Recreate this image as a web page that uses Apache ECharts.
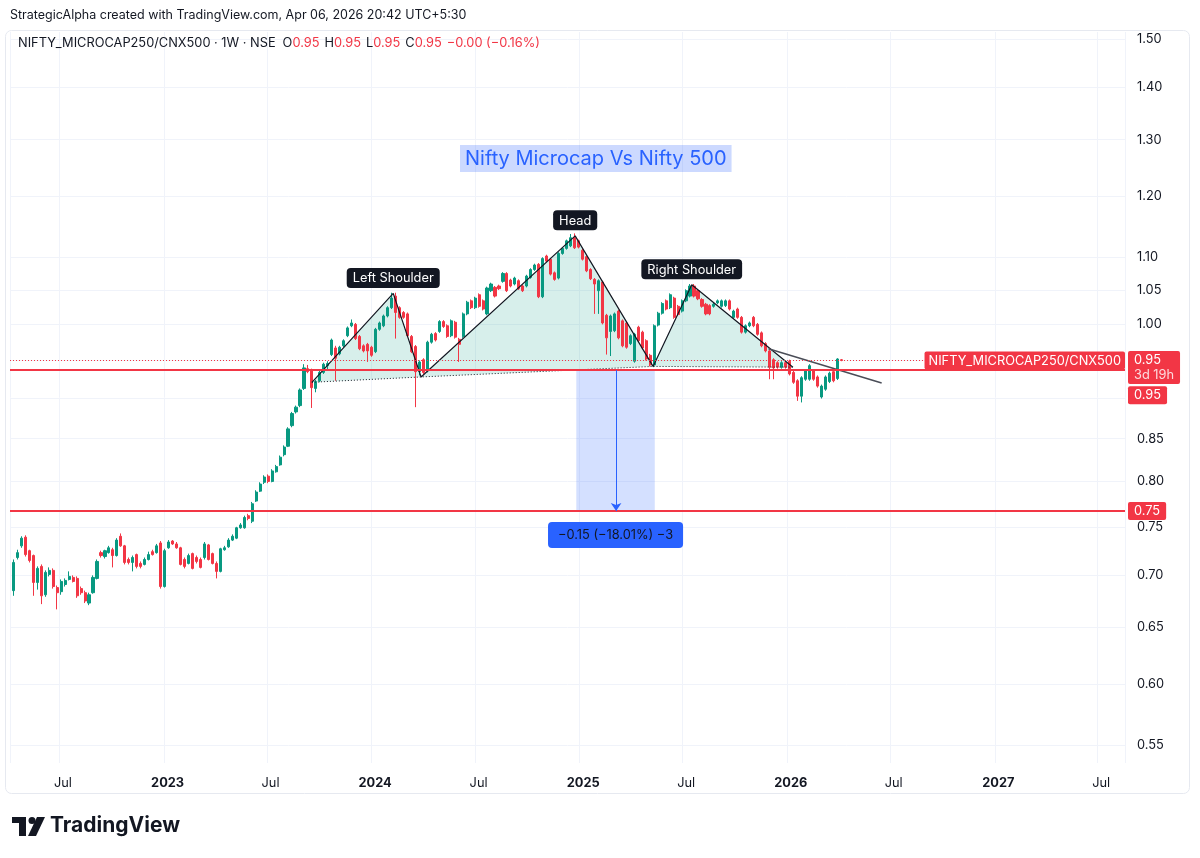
<!DOCTYPE html>
<html lang="en">
<head>
<meta charset="UTF-8">
<title>Nifty Microcap Vs Nifty 500</title>
<script src="https://cdn.jsdelivr.net/npm/echarts@6/dist/echarts.min.js"></script>
<style>
body{margin:0;padding:0;background:#fff;}
#main{width:1200px;height:858px;}
</style>
</head>
<body>
<div id="main"></div>
<script>
// weekly bars of NIFTY_MICROCAP250/CNX500, first bar is the week of 11 Apr 2022
var firstWeek = '2022-04-11';
var opens = [
  0.685,0.718,0.730,0.739,0.725,0.720,0.693,0.709,0.681,0.701,
  0.705,0.688,0.684,0.691,0.696,0.698,0.697,0.687,0.683,0.673,
  0.683,0.697,0.723,0.719,0.723,0.726,0.720,0.740,0.730,0.716,
  0.713,0.721,0.712,0.711,0.716,0.724,0.723,0.733,0.689,0.728,
  0.735,0.732,0.728,0.716,0.712,0.722,0.718,0.716,0.718,0.731,
  0.722,0.712,0.704,0.726,0.729,0.736,0.738,0.749,0.749,0.762,
  0.756,0.778,0.789,0.799,0.806,0.800,0.811,0.819,0.831,0.841,
  0.866,0.883,0.891,0.913,0.939,0.937,0.913,0.923,0.934,0.943,
  0.958,0.967,0.959,0.970,0.984,0.998,1.000,0.983,0.970,0.972,
  0.968,0.962,0.993,0.998,1.012,1.024,1.041,1.024,1.017,1.015,
  0.983,0.969,0.935,0.951,0.936,0.975,0.987,0.990,1.004,0.998,
  0.984,1.003,0.979,0.983,1.015,1.034,1.024,1.043,1.034,1.015,
  1.049,1.054,1.056,1.063,1.075,1.065,1.059,1.064,1.056,1.056,
  1.069,1.081,1.089,1.040,1.102,1.097,1.076,1.068,1.106,1.114,
  1.118,1.131,1.126,1.111,1.101,1.081,1.066,1.049,1.062,1.013,
  0.990,0.991,1.019,1.005,1.002,0.973,0.949,0.996,0.989,0.977,
  0.957,0.944,0.999,1.016,1.034,1.024,1.038,1.026,1.019,1.034,
  1.041,1.056,1.049,1.036,1.029,1.027,1.026,1.031,1.026,1.027,
  1.034,1.010,1.022,1.010,0.989,0.998,1.010,1.000,0.988,0.973,
  0.963,0.951,0.947,0.941,0.947,0.949,0.934,0.923,0.903,0.925,
  0.925,0.936,0.928,0.902,0.912,0.922,0.935,0.926,0.951
];
var closes = [
  0.713,0.723,0.738,0.721,0.715,0.693,0.707,0.680,0.703,0.705,
  0.689,0.683,0.694,0.695,0.699,0.694,0.680,0.683,0.675,0.681,
  0.698,0.714,0.720,0.725,0.728,0.720,0.736,0.730,0.713,0.713,
  0.718,0.709,0.709,0.716,0.721,0.721,0.730,0.689,0.725,0.734,
  0.732,0.728,0.711,0.709,0.720,0.707,0.714,0.708,0.732,0.716,
  0.712,0.704,0.727,0.728,0.736,0.740,0.749,0.752,0.760,0.759,
  0.775,0.788,0.797,0.805,0.800,0.812,0.817,0.828,0.840,0.862,
  0.881,0.889,0.911,0.940,0.935,0.914,0.922,0.934,0.945,0.946,
  0.978,0.953,0.968,0.977,0.995,1.002,0.980,0.966,0.963,0.963,
  0.957,0.993,1.002,1.012,1.024,1.038,1.017,1.010,1.010,0.984,
  0.962,0.935,0.948,0.934,0.975,0.986,0.978,1.004,0.997,0.983,
  1.005,0.982,0.972,1.015,1.032,1.024,1.038,1.026,1.022,1.053,
  1.059,1.041,1.052,1.075,1.049,1.056,1.068,1.052,1.049,1.071,
  1.081,1.088,1.040,1.098,1.094,1.074,1.066,1.106,1.114,1.126,
  1.131,1.115,1.116,1.097,1.079,1.067,1.059,1.064,1.002,0.981,
  1.012,1.015,0.981,0.970,0.968,0.984,0.986,0.977,0.967,0.952,
  0.944,0.998,1.016,1.030,1.022,1.043,1.010,1.014,1.034,1.049,
  1.056,1.041,1.037,1.026,1.015,1.015,1.029,1.034,1.034,1.034,
  1.022,1.019,1.010,0.989,0.998,1.002,0.998,0.986,0.970,0.963,
  0.941,0.940,0.941,0.947,0.941,0.932,0.921,0.903,0.927,0.936,
  0.943,0.925,0.916,0.916,0.928,0.933,0.923,0.952,0.950
];
var lows = [
  0.680,0.716,0.728,0.719,0.713,0.680,0.686,0.672,0.679,0.699,
  0.687,0.667,0.681,0.689,0.695,0.693,0.678,0.681,0.673,0.671,
  0.682,0.696,0.718,0.717,0.722,0.708,0.719,0.729,0.711,0.711,
  0.704,0.707,0.707,0.710,0.715,0.720,0.722,0.687,0.688,0.727,
  0.731,0.727,0.710,0.707,0.711,0.706,0.712,0.707,0.716,0.715,
  0.711,0.697,0.703,0.725,0.728,0.735,0.737,0.748,0.748,0.757,
  0.754,0.777,0.788,0.797,0.798,0.799,0.810,0.818,0.829,0.840,
  0.864,0.881,0.889,0.911,0.933,0.888,0.908,0.921,0.932,0.938,
  0.956,0.923,0.957,0.968,0.982,0.996,0.978,0.964,0.961,0.948,
  0.955,0.960,0.991,0.996,1.010,1.022,0.980,1.008,1.008,0.982,
  0.960,0.889,0.930,0.932,0.934,0.973,0.976,0.988,0.995,0.981,
  0.982,0.980,0.948,0.981,1.013,1.022,1.022,1.024,1.020,1.013,
  1.047,1.039,1.050,1.061,1.047,1.054,1.057,1.050,1.047,1.054,
  1.067,1.079,1.038,1.038,1.092,1.072,1.064,1.066,1.104,1.112,
  1.116,1.113,1.114,1.095,1.077,1.065,1.015,1.015,1.000,0.958,
  0.956,0.989,0.979,0.968,0.966,0.971,0.947,0.975,0.965,0.950,
  0.942,0.941,0.997,1.014,1.020,1.022,1.008,1.012,1.017,1.032,
  1.039,1.039,1.035,1.024,1.013,1.013,1.024,1.029,1.024,1.025,
  1.020,1.008,1.008,0.987,0.987,0.996,0.996,0.984,0.968,0.961,
  0.925,0.925,0.939,0.939,0.939,0.930,0.919,0.897,0.895,0.923,
  0.923,0.923,0.914,0.900,0.910,0.920,0.921,0.924,0.949
];
var highs = [
  0.716,0.726,0.740,0.741,0.726,0.721,0.709,0.711,0.705,0.708,
  0.707,0.690,0.696,0.697,0.704,0.700,0.699,0.689,0.685,0.683,
  0.700,0.716,0.725,0.726,0.730,0.728,0.738,0.743,0.731,0.718,
  0.720,0.722,0.714,0.718,0.724,0.726,0.732,0.735,0.727,0.736,
  0.736,0.734,0.729,0.718,0.722,0.723,0.720,0.718,0.734,0.732,
  0.723,0.714,0.728,0.730,0.738,0.742,0.750,0.754,0.762,0.764,
  0.777,0.790,0.799,0.807,0.808,0.814,0.819,0.830,0.842,0.864,
  0.883,0.891,0.913,0.945,0.944,0.939,0.924,0.936,0.947,0.949,
  0.980,0.970,0.970,0.979,0.997,1.007,1.002,0.985,0.972,0.974,
  0.970,0.995,1.004,1.014,1.026,1.046,1.046,1.026,1.019,1.017,
  0.985,0.971,0.950,0.953,0.977,0.988,0.989,1.006,1.006,1.000,
  1.007,1.005,0.981,1.017,1.034,1.036,1.040,1.045,1.036,1.055,
  1.061,1.056,1.058,1.077,1.077,1.067,1.070,1.066,1.058,1.073,
  1.083,1.090,1.091,1.100,1.104,1.099,1.078,1.108,1.116,1.128,
  1.137,1.138,1.128,1.113,1.103,1.083,1.068,1.066,1.064,1.015,
  1.014,1.017,1.021,1.007,1.004,0.986,0.988,0.998,0.991,0.979,
  0.959,1.000,1.018,1.032,1.036,1.045,1.040,1.028,1.036,1.051,
  1.059,1.059,1.051,1.038,1.031,1.029,1.031,1.036,1.036,1.036,
  1.036,1.021,1.024,1.012,1.000,1.004,1.012,1.002,0.990,0.975,
  0.965,0.953,0.949,0.949,0.949,0.951,0.936,0.925,0.929,0.938,
  0.945,0.938,0.930,0.918,0.930,0.935,0.937,0.953,0.952
];

// price scale (log)
var priceTicks = [0.55, 0.60, 0.65, 0.70, 0.75, 0.80, 0.85, 0.90, 0.95, 1.00, 1.05, 1.10, 1.20, 1.30, 1.40, 1.50];
var priceBottom = 0.5362, priceTop = 1.515;
var timeStart = '2022-04-05', timeEnd = '2027-08-18';

// head & shoulders drawing
var patternDates = ['2023-09-18', '2024-02-08', '2024-03-28', '2024-12-24', '2025-05-10', '2025-07-17', '2026-01-11'];
var patternPrices = [0.921, 1.045, 0.928, 1.134, 0.942, 1.058, 0.941];
var patternNames = ['', 'Left Shoulder', '', 'Head', '', 'Right Shoulder', ''];

// trend line
var trendDates = ['2025-11-29', '2026-06-16'];
var trendPrices = [0.966, 0.920];

// price range tool
var rangeDates = ['2024-12-26', '2025-05-13'];
var rangePrices = [0.937, 0.767];
var rangeArrowDate = '2025-03-06';
var rangeText = '\u22120.15 (\u221218.01%) \u22123';

// horizontal levels
var neckLevel = 0.937, neckText = '0.95';
var targetLevel = 0.767, targetText = '0.75';
var lastPrice = 0.950, lastText = '0.95', countdown = '3d 19h';
var symbolName = 'NIFTY_MICROCAP250/CNX500';

var FONT = 'Inter, "Noto Sans", sans-serif';
var FS = 12.8;
var RED = '#f23645', GREEN = '#089981', INK = '#131722';
var DAY = 86400000;
var L = Math.log;
var T = function (s) { return Date.parse(s); };
var MONTHS = ['Jan','Feb','Mar','Apr','May','Jun','Jul','Aug','Sep','Oct','Nov','Dec'];

var candles = [];
for (var i = 0; i < opens.length; i++) {
  candles.push([T(firstWeek) + i * 7 * DAY, L(opens[i]), L(closes[i]), L(lows[i]), L(highs[i])]);
}
var patternTimes = patternDates.map(T);

var boxLabel = {
  show: true, color: '#fff', backgroundColor: RED, fontFamily: FONT, fontSize: FS,
  padding: [3, 6, 2, 6], borderRadius: 2
};
var dottedPrice = { color: RED, width: 1, type: [1, 2] };

var myChart = echarts.init(document.getElementById('main'));
var option = {
  animation: false,
  textStyle: { fontFamily: FONT },
  title: [
    {
      text: 'StrategicAlpha created with TradingView.com, Apr 06, 2026 20:42 UTC+5:30',
      left: 10, top: 9, padding: 0,
      textStyle: { fontSize: 12.5, fontWeight: 'normal', color: INK, fontFamily: FONT }
    },
    {
      text: '{n|NIFTY_MICROCAP250/CNX500 \u00b7 1W \u00b7 NSE}{k|O}{v|0.95}{k|H}{v|0.95}{k|L}{v|0.95}{k|C}{v|0.95}{w|\u22120.00 (\u22120.16%)}',
      left: 18, top: 37, padding: 0,
      textStyle: {
        fontSize: FS, fontWeight: 'normal', fontFamily: FONT,
        rich: {
          n: { color: INK, fontSize: FS, fontFamily: FONT, padding: [0, 7, 0, 0] },
          k: { color: INK, fontSize: FS, fontFamily: FONT },
          v: { color: RED, fontSize: FS, fontFamily: FONT, padding: [0, 5, 0, 0] },
          w: { color: RED, fontSize: FS, fontFamily: FONT }
        }
      }
    },
    {
      text: 'Nifty Microcap Vs Nifty 500',
      left: 460, top: 145,
      backgroundColor: 'rgba(41,98,255,0.24)',
      padding: [4, 5, 3, 5],
      textStyle: { fontSize: 20, fontWeight: 'normal', color: '#2962ff', fontFamily: FONT }
    }
  ],
  grid: { left: 10, right: 75, top: 32, bottom: 95 },
  xAxis: {
    type: 'time',
    min: T(timeStart), max: T(timeEnd),
    minInterval: 175 * DAY, maxInterval: 190 * DAY,
    axisLine: { show: false },
    axisTick: { show: false },
    axisLabel: {
      margin: 14, color: INK, fontSize: FS, fontFamily: FONT,
      formatter: function (v) {
        var d = new Date(v);
        if (d.getUTCMonth() === 0) return '{y|' + d.getUTCFullYear() + '}';
        return '{m|' + MONTHS[d.getUTCMonth()] + '}';
      },
      rich: {
        y: { fontWeight: 'bold', fontSize: FS, color: INK, fontFamily: FONT, padding: [0, 0, 0, 7] },
        m: { fontSize: FS, color: INK, fontFamily: FONT, padding: [0, 0, 0, 7] }
      }
    },
    splitLine: { show: true, lineStyle: { color: '#f0f3fa', width: 1 } }
  },
  yAxis: {
    type: 'value', position: 'right',
    min: L(priceBottom), max: L(priceTop),
    axisLine: { show: false },
    axisTick: { show: false, customValues: priceTicks.map(L) },
    axisLabel: {
      customValues: priceTicks.map(L),
      margin: 12, color: INK, fontSize: FS, fontFamily: FONT,
      formatter: function (v) { return Math.exp(v).toFixed(2); }
    },
    splitLine: { show: true, lineStyle: { color: '#f0f3fa', width: 1 } }
  },
  series: [
    {
      // shaded head & shoulders area
      type: 'custom', z: 1, silent: true,
      data: [[patternTimes[0], L(patternPrices[0])]],
      renderItem: function (params, api) {
        var order = [0, 1, 2, 3, 4, 5, 6, 4, 2];
        var pts = order.map(function (k) { return api.coord([patternTimes[k], L(patternPrices[k])]); });
        return { type: 'polygon', shape: { points: pts }, style: { fill: 'rgba(8,153,129,0.16)' } };
      }
    },
    {
      type: 'candlestick', z: 2,
      barWidth: 2.6,
      data: candles,
      encode: { x: 0, y: [1, 2, 3, 4] },
      itemStyle: { color: GREEN, color0: RED, borderColor: GREEN, borderColor0: RED, borderWidth: 1 },
      markLine: {
        silent: true, symbol: 'none', z: 4, precision: 12,
        data: [
          {
            yAxis: L(lastPrice),
            lineStyle: dottedPrice,
            label: {
              show: true, position: 'end', distance: 3, offset: [0, 7],
              formatter: '{p|' + lastText + '}\n{t|' + countdown + '}',
              backgroundColor: RED, padding: [2, 6, 1, 6], borderRadius: 2,
              rich: {
                p: { color: '#fff', fontSize: FS, lineHeight: 15, fontFamily: FONT },
                t: { color: 'rgba(255,255,255,0.82)', fontSize: FS, lineHeight: 15, fontFamily: FONT }
              }
            }
          },
          {
            yAxis: L(lastPrice),
            lineStyle: dottedPrice,
            label: Object.assign({}, boxLabel, {
              position: 'insideEndTop', distance: 0, offset: [0, 9],
              padding: [3, 4, 2, 4],
              formatter: symbolName
            })
          },
          {
            yAxis: L(neckLevel),
            lineStyle: { color: RED, width: 2, type: 'solid' },
            label: Object.assign({}, boxLabel, { position: 'end', distance: 3, offset: [0, 25], formatter: neckText })
          },
          {
            yAxis: L(targetLevel),
            lineStyle: { color: RED, width: 2, type: 'solid' },
            label: Object.assign({}, boxLabel, { position: 'end', distance: 3, formatter: targetText })
          }
        ]
      },
      markArea: {
        silent: true,
        itemStyle: { color: 'rgba(41,98,255,0.2)' },
        label: {
          show: true, position: 'bottom', distance: 11,
          formatter: rangeText,
          color: INK, fontSize: FS, fontFamily: FONT,
          backgroundColor: '#2962ff', padding: [7, 10, 6, 10], borderRadius: 4
        },
        data: [[
          { xAxis: T(rangeDates[0]), yAxis: L(rangePrices[0]) },
          { xAxis: T(rangeDates[1]), yAxis: L(rangePrices[1]) }
        ]]
      }
    },
    {
      // pattern zigzag with labels
      type: 'line', z: 3, silent: true,
      symbol: 'circle', symbolSize: 1,
      itemStyle: { color: 'rgba(0,0,0,0)' },
      lineStyle: { color: INK, width: 1.2 },
      data: patternTimes.map(function (t, k) {
        var item = { value: [t, L(patternPrices[k])] };
        if (patternNames[k]) {
          item.label = {
            show: true, position: 'top', distance: 5, formatter: patternNames[k],
            color: '#fff', backgroundColor: INK, fontSize: FS, fontFamily: FONT,
            padding: [4, 6, 3, 6], borderRadius: 4
          };
        }
        return item;
      })
    },
    {
      // dotted neckline
      type: 'line', z: 3, silent: true, symbol: 'none',
      lineStyle: { color: INK, width: 1, type: [1, 2] },
      data: [0, 2, 4, 6].map(function (k) { return [patternTimes[k], L(patternPrices[k])]; })
    },
    {
      // trend line
      type: 'line', z: 3, silent: true, symbol: 'none',
      lineStyle: { color: '#4a4d57', width: 1.5 },
      data: trendDates.map(function (d, k) { return [T(d), L(trendPrices[k])]; }),
      markLine: {
        silent: true, symbol: ['none', 'arrow'], symbolSize: 8, precision: 12,
        lineStyle: { color: '#2962ff', width: 1, type: 'solid' },
        label: { show: false },
        data: [[
          { coord: [T(rangeArrowDate), L(rangePrices[0])] },
          { coord: [T(rangeArrowDate), L(rangePrices[1])] }
        ]]
      }
    }
  ],
  graphic: [
    {
      type: 'rect', silent: true, z: -10,
      shape: { x: 5.5, y: 30.5, width: 1184, height: 763, r: 6 },
      style: { fill: 'none', stroke: '#e6e9f0', lineWidth: 1 }
    },
    {
      type: 'group', left: 12, top: 815,
      children: [
        { type: 'rect', shape: { x: 0, y: 2, width: 14, height: 6 }, style: { fill: INK } },
        { type: 'rect', shape: { x: 7, y: 2, width: 7, height: 19 }, style: { fill: INK } },
        { type: 'circle', shape: { cx: 20, cy: 5.5, r: 3.5 }, style: { fill: INK } },
        { type: 'polygon', shape: { points: [[25, 2], [33, 2], [24, 21], [16, 21]] }, style: { fill: INK } },
        {
          type: 'text', x: 38, y: 0,
          style: { text: 'TradingView', fill: INK, font: 'bold 21px ' + FONT }
        }
      ]
    }
  ]
};
myChart.setOption(option);
</script>
</body>
</html>
